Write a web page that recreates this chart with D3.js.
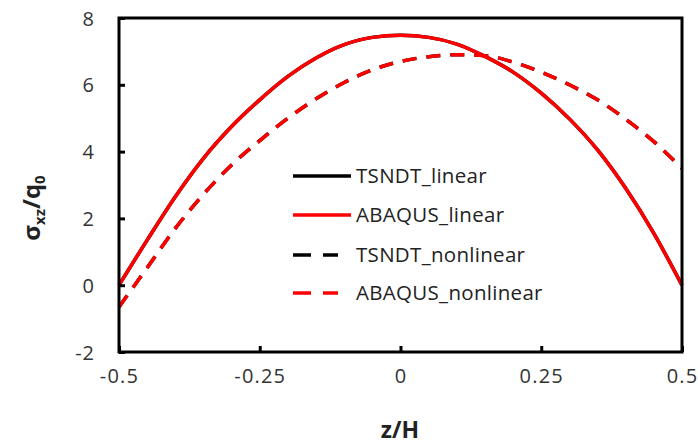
<!DOCTYPE html>
<html><head><meta charset="utf-8">
<script src="https://cdn.jsdelivr.net/npm/d3@7"></script>
<style>body{margin:0;background:#fff;} svg{display:block;}</style>
</head><body>
<svg id="c" width="698" height="445"></svg>
<script>
const zH = [-0.5,-0.45,-0.4,-0.35,-0.3,-0.25,-0.2,-0.15,-0.1,-0.05,0,0.05,0.1,0.15,0.2,0.25,0.3,0.35,0.4,0.45,0.5];
const tsndtLinear   = [0,1.35,2.65,3.80,4.75,5.55,6.25,6.80,7.20,7.42,7.48,7.42,7.22,6.85,6.38,5.75,4.98,4.05,2.90,1.55,0];
const abaqusLinear  = [0,1.35,2.65,3.80,4.75,5.55,6.25,6.80,7.20,7.42,7.48,7.42,7.22,6.85,6.38,5.75,4.98,4.05,2.90,1.55,0];
const tsndtNonlinear  = [-0.65,0.52,1.70,2.72,3.60,4.33,5.00,5.58,6.07,6.45,6.70,6.84,6.90,6.87,6.68,6.38,6.00,5.55,4.97,4.30,3.50];
const abaqusNonlinear = [-0.65,0.52,1.70,2.72,3.60,4.33,5.00,5.58,6.07,6.45,6.70,6.84,6.90,6.87,6.68,6.38,6.00,5.55,4.97,4.30,3.50];
const xTicks = [-0.5,-0.25,0,0.25,0.5];
const xTickLabels = ["-0.5","-0.25","0","0.25","0.5"];
const yTicks = [-2,0,2,4,6,8];
const yTickLabels = ["-2","0","2","4","6","8"];
const seriesNames = ["TSNDT_linear","ABAQUS_linear","TSNDT_nonlinear","ABAQUS_nonlinear"];

const series = [
  {name: seriesNames[0], vals: tsndtLinear, color: "#000", dash: null},
  {name: seriesNames[1], vals: abaqusLinear, color: "#ff0000", dash: null},
  {name: seriesNames[2], vals: tsndtNonlinear, color: "#000", dash: "14,10"},
  {name: seriesNames[3], vals: abaqusNonlinear, color: "#ff0000", dash: "14,10"}
];

const svg = d3.select("#c");
const L = 119, R = 682, T = 18, B = 352;
const x = d3.scaleLinear().domain([-0.5,0.5]).range([L,R]);
const y = d3.scaleLinear().domain([-2,8]).range([B,T]);

const font = "'Open Sans', sans-serif";

const line = d3.line().x((d,i)=>x(zH[i])).y(d=>y(d)).curve(d3.curveMonotoneX);
const plot = svg.append("g");
[series[2], series[0], series[3], series[1]].forEach(s=>{
  plot.append("path").datum(s.vals).attr("d", line)
    .attr("fill","none").attr("stroke", s.color).attr("stroke-width",3.5)
    .attr("stroke-dasharray", s.dash).attr("stroke-linejoin","round");
});

svg.append("rect").attr("x",L).attr("y",T).attr("width",R-L).attr("height",B-T)
  .attr("fill","none").attr("stroke","#000").attr("stroke-width",3);

const yAxis = d3.axisLeft(y).tickValues(yTicks).tickFormat((d,i)=>yTickLabels[i]).tickSizeInner(-6).tickSizeOuter(0).tickPadding(24);
const gy = svg.append("g").attr("transform",`translate(${L},0)`).call(yAxis);
gy.select(".domain").remove();
gy.selectAll(".tick line").attr("stroke","#000").attr("stroke-width",3);
gy.selectAll(".tick text").attr("font-family",font).attr("font-size",20).attr("fill","#333")
  .attr("letter-spacing","1px").attr("dy","0.35em");

const xAxis = d3.axisBottom(x).tickValues(xTicks).tickFormat((d,i)=>xTickLabels[i]).tickSizeInner(-6).tickSizeOuter(0).tickPadding(17);
const gx = svg.append("g").attr("transform",`translate(0,${B})`).call(xAxis);
gx.select(".domain").remove();
gx.selectAll(".tick line").attr("stroke","#000").attr("stroke-width",3);
gx.selectAll(".tick text").attr("font-family",font).attr("font-size",20).attr("fill","#333")
  .attr("letter-spacing","1.2px");

svg.append("text").attr("x",400).attr("y",438).attr("text-anchor","middle")
  .attr("font-family",font).attr("font-weight","bold").attr("font-size",23).attr("fill","#222")
  .text("z/H");

const yt = svg.append("text").attr("transform","translate(40,208) rotate(-90)").attr("text-anchor","middle")
  .attr("font-family",font).attr("font-weight","bold").attr("font-size",24).attr("fill","#222");
yt.append("tspan").text("σ");
yt.append("tspan").attr("font-size",15).attr("dy",5).text("xz");
yt.append("tspan").attr("dy",-5).text("/q");
yt.append("tspan").attr("font-size",15).attr("dy",5).text("0");

const legY = [176,215,255,293];
series.forEach((s,i)=>{
  const g = svg.append("g");
  g.append("line").attr("x1",293).attr("x2",s.dash ? 338 : 351).attr("y1",legY[i]).attr("y2",legY[i])
    .attr("stroke",s.color).attr("stroke-width",3.5).attr("stroke-dasharray", s.dash ? "18,12" : null);
  g.append("text").attr("x",356).attr("y",legY[i]).attr("dy","0.36em")
    .attr("font-family",font).attr("font-size",20.5).attr("fill","#222").attr("letter-spacing","0.3px").text(s.name);
});
</script>
</body></html>
